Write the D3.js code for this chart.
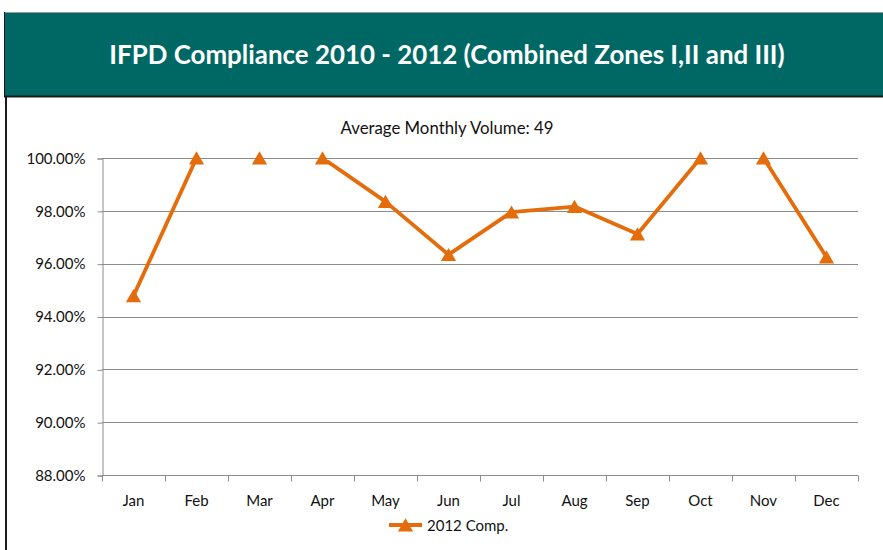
<!DOCTYPE html>
<html>
<head>
<meta charset="utf-8">
<script src="https://cdn.jsdelivr.net/npm/d3@7"></script>
<style>
  html, body { margin: 0; padding: 0; background: #ffffff; }
  svg { display: block; }
  text { font-family: Lato, "Open Sans", sans-serif; }
</style>
</head>
<body>
<svg id="chart" width="883" height="550"></svg>
<script>
// Monthly compliance rate for 2012 (combined zones)
const months = ["Jan", "Feb", "Mar", "Apr", "May", "Jun", "Jul", "Aug", "Sep", "Oct", "Nov", "Dec"];
const compliance2012 = [0.9478, 1.0, 1.0, 1.0, 0.9835, 0.9634, 0.9795, 0.9816, 0.9712, 1.0, 1.0, 0.9625];
const yTicks = [0.88, 0.90, 0.92, 0.94, 0.96, 0.98, 1.00];
const seriesName = "2012 Comp.";
const titleText = "IFPD Compliance 2010 - 2012 (Combined Zones I,II and III)";
const subtitleText = "Average Monthly Volume: 49";

const svg = d3.select("#chart");
const W = 883, H = 550;
const plot = { left: 102, right: 858, top: 158, bottom: 475 };
const orange = "#E46C0A";
const grid = "#8C8C8C";
const labelSize = 15;

// Title band
svg.append("rect")
  .attr("x", 4).attr("y", 12).attr("width", W).attr("height", 84)
  .attr("fill", "#006864");
svg.append("line")
  .attr("x1", 4).attr("x2", W).attr("y1", 12.5).attr("y2", 12.5)
  .attr("stroke", "#9a9a9a").attr("stroke-width", 1);
svg.append("line")
  .attr("x1", 4.5).attr("x2", 4.5).attr("y1", 12).attr("y2", 96)
  .attr("stroke", "#1a1a1a").attr("stroke-width", 1);
svg.append("line")
  .attr("x1", 4).attr("x2", W).attr("y1", 96.5).attr("y2", 96.5)
  .attr("stroke", "#1a1a1a").attr("stroke-width", 2);
// Left frame below the band
svg.append("line")
  .attr("x1", 6).attr("x2", 6).attr("y1", 96).attr("y2", H)
  .attr("stroke", "#1a1a1a").attr("stroke-width", 2);

svg.append("text")
  .attr("x", 447).attr("y", 64)
  .attr("text-anchor", "middle")
  .attr("fill", "#ffffff")
  .attr("font-weight", "bold")
  .attr("font-size", 25.9)
  .text(titleText);

svg.append("text")
  .attr("x", 447).attr("y", 134)
  .attr("text-anchor", "middle")
  .attr("fill", "#111")
  .attr("font-size", 16.8)
  .text(subtitleText);

// Scales
const x = d3.scaleBand().domain(months).range([plot.left, plot.right]).padding(0);
const y = d3.scaleLinear().domain([0.88, 1.0]).range([plot.bottom, plot.top]);
const xc = d => x(d) + x.bandwidth() / 2;

// Gridlines
svg.append("g")
  .selectAll("line")
  .data(yTicks)
  .join("line")
  .attr("x1", plot.left).attr("x2", plot.right)
  .attr("y1", d => Math.round(y(d)) + 0.5).attr("y2", d => Math.round(y(d)) + 0.5)
  .attr("stroke", grid).attr("stroke-width", 1);

// Y axis
const yAxis = d3.axisLeft(y)
  .tickValues(yTicks)
  .tickSize(5)
  .tickPadding(12)
  .tickFormat(d3.format(".2%"));
const gy = svg.append("g")
  .attr("transform", `translate(${plot.left + 0.5},0.5)`)
  .call(yAxis);
gy.selectAll("path, line").attr("stroke", grid);
gy.selectAll("text").attr("font-size", labelSize).attr("fill", "#111")
  .attr("font-family", "Lato, 'Open Sans', sans-serif");

// X axis with ticks at category boundaries
const gx = svg.append("g")
  .attr("transform", `translate(0,${plot.bottom + 0.5})`);
gx.append("line")
  .attr("x1", plot.left).attr("x2", plot.right)
  .attr("stroke", grid);
gx.selectAll("line.tick")
  .data(months.concat(["__end"]))
  .join("line")
  .attr("class", "tick")
  .attr("x1", (d, i) => Math.round(i < months.length ? x(d) : plot.right) + 0.5)
  .attr("x2", (d, i) => Math.round(i < months.length ? x(d) : plot.right) + 0.5)
  .attr("y1", 0).attr("y2", 6)
  .attr("stroke", grid);
gx.selectAll("text")
  .data(months)
  .join("text")
  .attr("x", d => xc(d))
  .attr("y", 30)
  .attr("text-anchor", "middle")
  .attr("font-size", labelSize)
  .attr("fill", "#111")
  .text(d => d);

// Line series, clipped to the plot area
svg.append("clipPath").attr("id", "plotClip")
  .append("rect")
  .attr("x", plot.left).attr("y", plot.top + 2)
  .attr("width", plot.right - plot.left).attr("height", plot.bottom - plot.top - 2);

const line = d3.line()
  .x((d, i) => xc(months[i]))
  .y(d => y(d));

svg.append("path")
  .datum(compliance2012)
  .attr("clip-path", "url(#plotClip)")
  .attr("fill", "none")
  .attr("stroke", orange)
  .attr("stroke-width", 3.8)
  .attr("stroke-linejoin", "round")
  .attr("d", line);

// Triangle markers, box-centred on each point
const tri = d3.symbol().type(d3.symbolTriangle).size(100);
const triShift = 2;
svg.append("g")
  .selectAll("path")
  .data(compliance2012)
  .join("path")
  .attr("transform", (d, i) => `translate(${xc(months[i])},${y(d) + triShift})`)
  .attr("d", tri)
  .attr("fill", orange);

// Legend
const lg = svg.append("g").attr("transform", "translate(389,525)");
lg.append("line")
  .attr("x1", 0).attr("x2", 33).attr("y1", 0).attr("y2", 0)
  .attr("stroke", orange).attr("stroke-width", 3.8);
lg.append("path")
  .attr("transform", `translate(16.5,${triShift})`)
  .attr("d", tri)
  .attr("fill", orange);
lg.append("text")
  .attr("x", 38).attr("y", 5.5)
  .attr("font-size", labelSize)
  .attr("fill", "#111")
  .text(seriesName);
</script>
</body>
</html>
